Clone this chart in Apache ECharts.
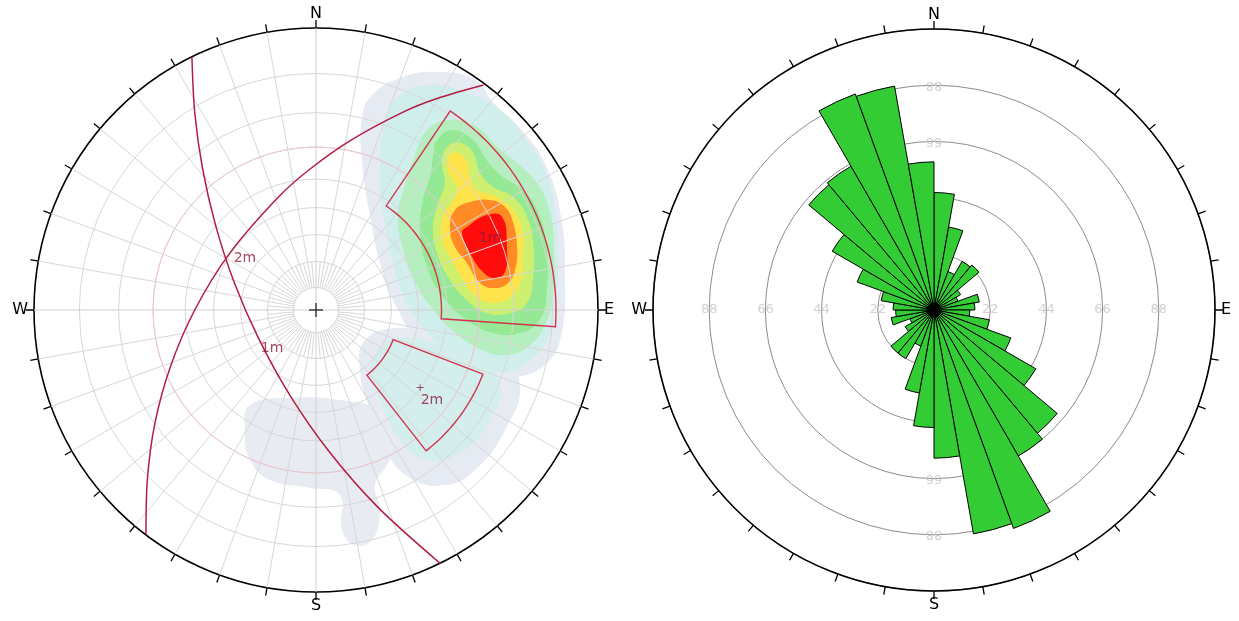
<!DOCTYPE html>
<html><head><meta charset="utf-8">
<script src="https://cdn.jsdelivr.net/npm/echarts@6/dist/echarts.min.js"></script>
<style>html,body{margin:0;padding:0;background:#fff}#c{width:1239px;height:621px}</style>
</head><body><div id="c"></div>
<script>
// ================= DATA =================
const cardinalLabels = {0:'N', 90:'E', 180:'S', 270:'W'};

// ---- stereonet (left) ----
const gridCircleRadii = [0.08, 0.172, 0.267, 0.363, 0.464, 0.578, 0.70, 0.839];
const frictionCircleRadius = 0.578;
const spokeStep = 10, innerSpokeStep = 5;

// density contours, outer to inner, in normalised x/y of the net
const haloMain = [[0.199,0.762],[0.298,0.823],[0.440,0.844],[0.564,0.816],[0.631,0.734],[0.730,0.638],[0.816,0.511],[0.869,0.330],[0.883,0.117],[0.869,-0.092],[0.816,-0.191],[0.706,-0.241],[0.582,-0.248],[0.475,-0.206],[0.369,-0.124],[0.291,0],[0.234,0.142],[0.191,0.337],[0.163,0.532],[0.163,0.681]];
const haloWindow2 = [[0.174,-0.106],[0.298,-0.064],[0.475,-0.089],[0.652,-0.160],[0.723,-0.266],[0.670,-0.426],[0.564,-0.567],[0.457,-0.621],[0.333,-0.596],[0.245,-0.496],[0.191,-0.355],[0.156,-0.213]];
const haloSouthWest = [[-0.234,-0.337],[-0.092,-0.312],[0.085,-0.319],[0.227,-0.355],[0.280,-0.426],[0.262,-0.532],[0.209,-0.621],[0.227,-0.709],[0.199,-0.816],[0.138,-0.833],[0.092,-0.780],[0.085,-0.656],[-0.021,-0.631],[-0.163,-0.603],[-0.234,-0.532],[-0.252,-0.426]];
const mintMain = [[0.298,0.762],[0.404,0.798],[0.528,0.773],[0.652,0.709],[0.741,0.610],[0.812,0.496],[0.848,0.355],[0.858,0.213],[0.851,0.035],[0.823,-0.099],[0.759,-0.177],[0.670,-0.220],[0.564,-0.206],[0.468,-0.149],[0.387,-0.071],[0.316,0.035],[0.270,0.184],[0.238,0.348],[0.227,0.514],[0.245,0.667]];
const mintWindow2 = [[0.220,-0.142],[0.298,-0.099],[0.440,-0.124],[0.582,-0.177],[0.652,-0.266],[0.617,-0.390],[0.528,-0.496],[0.404,-0.532],[0.298,-0.461],[0.227,-0.319],[0.191,-0.213]];
const lightGreen = [[0.394,0.638],[0.475,0.674],[0.571,0.649],[0.642,0.578],[0.713,0.521],[0.784,0.450],[0.830,0.344],[0.844,0.213],[0.840,0.046],[0.812,-0.053],[0.759,-0.124],[0.681,-0.160],[0.589,-0.142],[0.504,-0.089],[0.422,-0.007],[0.351,0.099],[0.309,0.213],[0.291,0.337],[0.316,0.443],[0.351,0.550]];
const green = [[0.429,0.603],[0.486,0.638],[0.557,0.603],[0.606,0.532],[0.663,0.472],[0.734,0.426],[0.794,0.330],[0.819,0.213],[0.819,0.071],[0.794,-0.035],[0.723,-0.082],[0.628,-0.082],[0.535,-0.035],[0.450,0.046],[0.394,0.152],[0.369,0.273],[0.379,0.390],[0.404,0.472],[0.415,0.543]];
const lime = [[0.465,0.578],[0.511,0.592],[0.557,0.557],[0.582,0.486],[0.628,0.436],[0.699,0.401],[0.748,0.330],[0.770,0.238],[0.770,0.117],[0.748,0.025],[0.688,-0.011],[0.606,-0.011],[0.535,0.035],[0.475,0.106],[0.429,0.202],[0.415,0.294],[0.433,0.379],[0.457,0.450],[0.447,0.521]];
const yellow = [[0.475,0.550],[0.504,0.557],[0.535,0.525],[0.546,0.472],[0.571,0.426],[0.642,0.401],[0.699,0.355],[0.730,0.284],[0.734,0.188],[0.723,0.096],[0.688,0.043],[0.628,0.025],[0.571,0.046],[0.521,0.106],[0.482,0.177],[0.447,0.248],[0.450,0.330],[0.486,0.390],[0.500,0.436],[0.468,0.496]];
const orange = [[0.493,0.355],[0.546,0.383],[0.617,0.390],[0.670,0.365],[0.699,0.309],[0.713,0.223],[0.706,0.142],[0.681,0.096],[0.635,0.078],[0.582,0.096],[0.535,0.167],[0.493,0.223],[0.475,0.294]];
const red = [[0.535,0.294],[0.606,0.337],[0.660,0.330],[0.677,0.223],[0.670,0.135],[0.635,0.113],[0.592,0.135],[0.546,0.202],[0.518,0.273]];

const contourShapes = [haloMain, haloWindow2, haloSouthWest, mintMain, mintWindow2, lightGreen, green, lime, yellow, orange, red];
const contourColors = ['#e6eaf2', '#e6eaf2', '#e8ebf2', '#d0eeeb', '#d3eeed', '#b6efbf', '#95e995', '#cff06f', '#ffe34a', '#ff8a26', '#ff0c0c'];

// great circles
const greatCircleA = [[-0.440,0.897],[-0.430,0.7],[-0.402,0.5],[-0.356,0.3],[-0.291,0.1],[-0.204,-0.1],[-0.094,-0.3],[0.045,-0.5],[0.220,-0.7],[0.442,-0.9]];
const greatCircleB = [[-0.603,-0.795],[-0.598,-0.6],[-0.571,-0.4],[-0.516,-0.2],[-0.430,0],[-0.307,0.2],[-0.134,0.4],[-0.021,0.5],[0.120,0.6],[0.305,0.7],[0.429,0.75],[0.594,0.798]];

// selection windows: azimuth range (deg) and radius range
const windowAzimuths = [[34, 94], [111, 142]];
const windowRadii = [[0.445, 0.851], [0.293, 0.634]];

// text labels on the net
const netLabels = [[-0.252,0.184,'2m'], [-0.156,-0.135,'1m'], [0.617,0.255,'1m'], [0.411,-0.319,'2m']];
const netPlusMarks = [[0.369,-0.277]];

// ---- rose diagram (right) ----
const roseBins = ['0','10','20','30','40','50','60','70','80','90','100','110','120','130','140','150','160','170',
                  '180','190','200','210','220','230','240','250','260','270','280','290','300','310','320','330','340','350'];
const roseValues = [46,33,16,22,23,12,10,18,16,14,22,32,46,63,66,91,89,58,
                    46,33,15,22,22,13,10,17,15,16,21,32,46,64,65,90,89,58];
const roseMax = 110, roseRingStep = 22;
const roseRingLabels = [22, 44, 66, 88];
const roseVerticalLabels = [66, 88];

// ================= CHART =================
const chart = echarts.init(document.getElementById('c'), null, {renderer:'canvas'});
const FONT = 'DejaVu Sans';

function cardinalAngleAxis(polarIndex){
  return {
    polarIndex, type:'value', min:0, max:360, interval:10, startAngle:90, clockwise:true,
    axisLine:{show:true, lineStyle:{color:'#000', width:1.6}},
    axisTick:{show:true, inside:false, length:8, lineStyle:{color:'#000', width:1.3}},
    axisLabel:{show:true, margin:6, color:'#000', fontSize:16, fontFamily:FONT,
               formatter:v => cardinalLabels[v] !== undefined && v < 360 ? cardinalLabels[v] : ''},
    splitLine:{show:false}
  };
}

const gridColor = '#d7d7d7';
function renderNetGrid(params, api){
  const c = api.coord([0, 0]);
  const R = p => { const q = api.coord([p, 0]); return Math.hypot(q[0]-c[0], q[1]-c[1]); };
  const children = [];
  gridCircleRadii.forEach(r => children.push({type:'circle', shape:{cx:c[0], cy:c[1], r:R(r)}, style:{fill:null, stroke:gridColor, lineWidth:1}}));
  children.push({type:'circle', shape:{cx:c[0], cy:c[1], r:R(frictionCircleRadius)}, style:{fill:null, stroke:'#efc4ce', lineWidth:1}});
  for (let a = 0; a < 360; a += innerSpokeStep) {
    let r0, r1;
    if (a % 90 === 0) { r0 = 0; r1 = 1; }
    else if (a % spokeStep === 0) { r0 = gridCircleRadii[0]; r1 = 1; }
    else { r0 = gridCircleRadii[0]; r1 = gridCircleRadii[1]; }
    const p0 = api.coord([r0, a]), p1 = api.coord([r1, a]);
    children.push({type:'line', shape:{x1:p0[0], y1:p0[1], x2:p1[0], y2:p1[1]}, style:{stroke: a % 90 === 0 ? '#cfcfcf' : gridColor, lineWidth:1}});
  }
  children.push({type:'line', shape:{x1:c[0]-7, y1:c[1], x2:c[0]+7, y2:c[1]}, style:{stroke:'#222', lineWidth:1.3}});
  children.push({type:'line', shape:{x1:c[0], y1:c[1]-7, x2:c[0], y2:c[1]+7}, style:{stroke:'#222', lineWidth:1.3}});
  return {type:'group', children};
}

function renderWindow(params, api){
  const i = params.dataIndex;
  const [a0, a1] = windowAzimuths[i], [r0, r1] = windowRadii[i];
  const pts = [];
  for (let k = 0; k <= 30; k++) pts.push(api.coord([r0, a0 + (a1 - a0) * k / 30]));
  for (let k = 30; k >= 0; k--) pts.push(api.coord([r1, a0 + (a1 - a0) * k / 30]));
  return {type:'polygon', shape:{points:pts}, style:{fill:null, stroke:'#d2334f', lineWidth:1.4}};
}

function renderContour(params, api){
  const i = params.dataIndex;
  return {type:'polygon', shape:{points:contourShapes[i].map(p => api.coord(p)), smooth:0.45},
          style:{fill:contourColors[i], stroke:null}};
}

const option = {
  animation:false,
  backgroundColor:'#fff',
  grid:[{left:34, top:28, width:564, height:564, show:false}],
  xAxis:[{gridIndex:0, type:'value', min:-1, max:1, show:false}],
  yAxis:[{gridIndex:0, type:'value', min:-1, max:1, show:false}],
  polar:[
    {center:[316, 310], radius:282},
    {center:[934, 310], radius:281},
    {center:[934, 310], radius:281}
  ],
  angleAxis:[
    cardinalAngleAxis(0),
    {polarIndex:1, type:'category', data:roseBins, startAngle:90, clockwise:true, boundaryGap:true,
     axisLine:{show:false}, axisTick:{show:false}, axisLabel:{show:false}, splitLine:{show:false}},
    cardinalAngleAxis(2)
  ],
  radiusAxis:[
    {polarIndex:0, type:'value', min:0, max:1, axisLine:{show:false}, axisTick:{show:false}, axisLabel:{show:false}, splitLine:{show:false}},
    {polarIndex:1, type:'value', min:0, max:roseMax, axisLine:{show:false}, axisTick:{show:false}, axisLabel:{show:false}, splitLine:{show:false}},
    {polarIndex:2, type:'value', min:0, max:roseMax, interval:roseRingStep, axisLine:{show:false}, axisTick:{show:false}, axisLabel:{show:false},
     splitLine:{show:true, lineStyle:{color:'#8c8c8c', width:1}}}
  ],
  series:[
    {type:'custom', coordinateSystem:'cartesian2d', xAxisIndex:0, yAxisIndex:0, z:1, silent:true,
     data:contourShapes.map(() => [0, 0]), renderItem:renderContour},
    {type:'custom', coordinateSystem:'polar', polarIndex:0, z:2, silent:true, data:[[0, 0]], renderItem:renderNetGrid},
    {type:'line', xAxisIndex:0, yAxisIndex:0, data:greatCircleA, smooth:0.3, showSymbol:false, z:4, silent:true,
     lineStyle:{color:'#b31d42', width:1.5}},
    {type:'line', xAxisIndex:0, yAxisIndex:0, data:greatCircleB, smooth:0.3, showSymbol:false, z:4, silent:true,
     lineStyle:{color:'#b31d42', width:1.5}},
    {type:'custom', coordinateSystem:'polar', polarIndex:0, z:4, silent:true, data:windowAzimuths.map(() => [0, 0]), renderItem:renderWindow},
    {type:'scatter', xAxisIndex:0, yAxisIndex:0, symbolSize:0, z:5, silent:true, data:netLabels,
     label:{show:true, position:'inside', formatter:p => p.value[2], color:'#8e1a3c', fontSize:14, fontFamily:FONT}},
    {type:'scatter', xAxisIndex:0, yAxisIndex:0, symbolSize:0, z:5, silent:true, data:netPlusMarks,
     label:{show:true, position:'inside', formatter:'+', color:'#8e1a3c', fontSize:11, fontFamily:FONT}},
    {type:'scatter', coordinateSystem:'polar', polarIndex:2, symbolSize:0, z:1, silent:true,
     data:roseRingLabels.map(v => [v, 90]).concat(roseRingLabels.map(v => [v, 270])),
     label:{show:true, position:'inside', formatter:p => String(p.value[0]), color:'#c6c6c6', fontSize:13, fontFamily:FONT}},
    {type:'scatter', coordinateSystem:'polar', polarIndex:2, symbolSize:0, z:1, silent:true,
     data:roseVerticalLabels.map(v => [v, 0]).concat(roseVerticalLabels.map(v => [v, 180])),
     label:{show:true, position:'inside', rotate:180, formatter:p => String(p.value[0]), color:'#c6c6c6', fontSize:13, fontFamily:FONT}},
    {type:'bar', coordinateSystem:'polar', polarIndex:1, data:roseValues, barCategoryGap:'0%', z:3, silent:true,
     itemStyle:{color:'#34cc34', borderColor:'#000', borderWidth:1}},
    // dark hub where petal outlines converge
    {type:'scatter', coordinateSystem:'polar', polarIndex:2, data:[[0, 0]], symbol:'circle', symbolSize:15, z:5, silent:true,
     itemStyle:{color:'#000'}}
  ]
};
chart.setOption(option);
</script></body></html>
